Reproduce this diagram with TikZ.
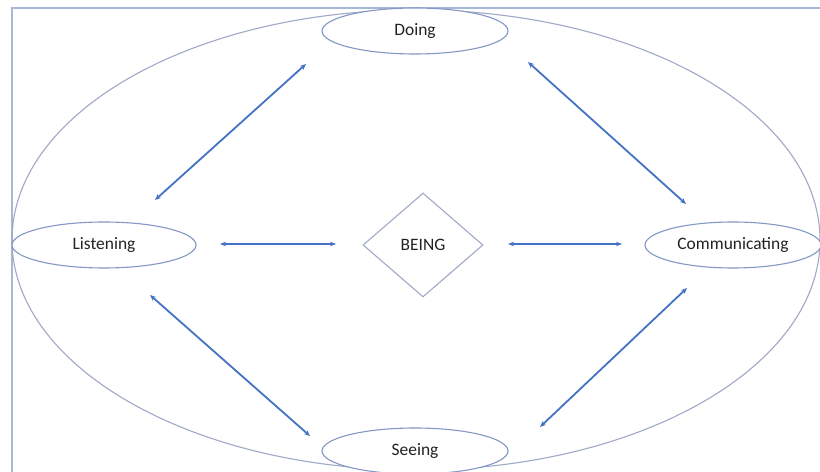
\documentclass[tikz,border=0pt]{standalone}
\usepackage{fontspec}
\setmainfont{Carlito}
\usetikzlibrary{arrows.meta,shapes.geometric}
\definecolor{arrowblue}{HTML}{4472C4}
\definecolor{shapeline}{HTML}{8398C4}
\definecolor{bigline}{HTML}{A0A9C6}
\definecolor{frameline}{HTML}{A6B8D6}
\definecolor{txt}{HTML}{222222}
\tikzset{
  labelfont/.style={font=\fontsize{17.5}{20}\selectfont, text=txt},
  oval/.style={ellipse, draw=shapeline, line width=1.1bp, inner sep=0pt, labelfont},
  twoway/.style={arrowblue, line width=1.8bp, {Stealth[length=6bp,width=5bp]}-{Stealth[length=6bp,width=5bp]}},
  twowaythin/.style={arrowblue, line width=1.3bp, {Stealth[length=6bp,width=4.5bp]}-{Stealth[length=6bp,width=4.5bp]}},
}
\begin{document}
\begin{tikzpicture}[x=1bp,y=-1bp]
\useasboundingbox (0,0) rectangle (820,472);
\clip (0,0) rectangle (820,472);
\fill[white] (0,0) rectangle (820,472);
% frame
\draw[frameline, line width=1.2bp] (12,480) -- (12,8) -- (830,8);
% big ellipse
\node[ellipse, draw=bigline, line width=1.1bp, minimum width=808bp, minimum height=460bp, inner sep=0pt] (outer) at (416,240) {};
% nodes
\node[oval, fill=white, minimum width=186bp, minimum height=46bp] (doing) at (415,31) {Doing};
\node[oval, fill=white, minimum width=184bp, minimum height=46bp] (listening) at (104,245) {Listening};
\node[oval, fill=white, minimum width=176bp, minimum height=46bp] (comm) at (733,245) {Communicating};
\node[oval, fill=white, minimum width=186bp, minimum height=46bp] (seeing) at (415,451) {Seeing};
\node[diamond, draw=bigline, line width=1.1bp, inner sep=0pt, minimum width=120bp, minimum height=104bp, labelfont] (being) at (423,245) {BEING};
% arrow ends
\coordinate (dl1) at (306,64);   \coordinate (dl2) at (155,200);
\coordinate (dc1) at (528,62);   \coordinate (dc2) at (686,204);
\coordinate (lb1) at (220,244);  \coordinate (lb2) at (336,244);
\coordinate (bc1) at (508,244);  \coordinate (bc2) at (622,244);
\coordinate (ls1) at (150,295);  \coordinate (ls2) at (310,436);
\coordinate (cs1) at (687,288);  \coordinate (cs2) at (540,427);
\draw[twoway] (dl1) -- (dl2);
\draw[twoway] (dc1) -- (dc2);
\draw[twowaythin] (lb1) -- (lb2);
\draw[twowaythin] (bc1) -- (bc2);
\draw[twoway] (ls1) -- (ls2);
\draw[twoway] (cs1) -- (cs2);
\end{tikzpicture}
\end{document}
